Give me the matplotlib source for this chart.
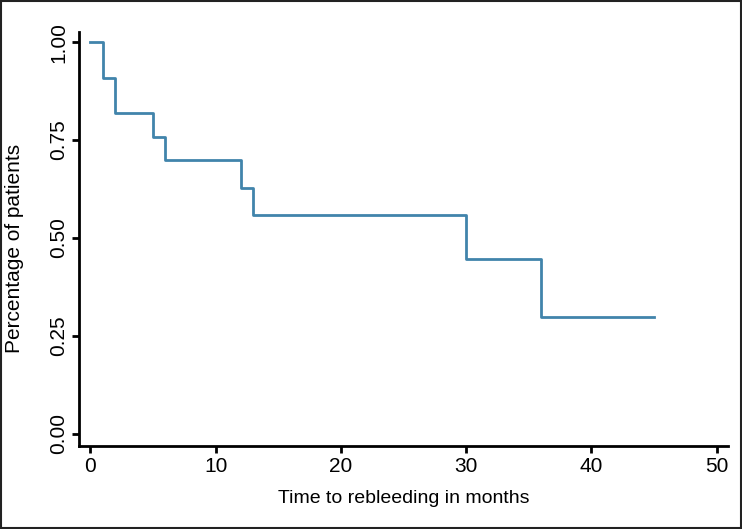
#!/usr/bin/env python3
"""Kaplan-Meier style step curve: time to rebleeding."""

import matplotlib

matplotlib.use("Agg", force=True)

import matplotlib.pyplot as plt
from matplotlib.patches import Rectangle

# step change times (months) and survival level after each change
times = [0, 1, 2, 5, 6, 12, 13, 30, 36, 45]
survival = [1.00, 0.909, 0.818, 0.758, 0.698, 0.628, 0.558, 0.447, 0.298, 0.298]

x_ticks = [0, 10, 20, 30, 40, 50]
y_ticks = [0.00, 0.25, 0.50, 0.75, 1.00]
y_labels = ["0.00", "0.25", "0.50", "0.75", "1.00"]


def main():
    plt.rcParams.update({
        "font.family": ["Liberation Sans", "DejaVu Sans"],
        "font.size": 13,
    })

    fig = plt.figure(figsize=(7.42, 5.29), dpi=100)
    ax = fig.add_axes([0.1065, 0.157, 0.8745, 0.7825])

    ax.step(times, survival, where="post", color="#4184ab", linewidth=2.0)

    ax.set_xlim(-0.9, 50.9)
    ax.set_ylim(-0.031, 1.026)
    ax.set_xticks(x_ticks)
    ax.set_yticks(y_ticks)
    ax.set_yticklabels(y_labels, rotation=90, va="center")

    for side in ("top", "right"):
        ax.spines[side].set_visible(False)
    for side in ("left", "bottom"):
        ax.spines[side].set_linewidth(2.0)
    ax.tick_params(width=2.0, length=5, labelsize=15, pad=3)

    ax.set_xlabel("Time to rebleeding in months", fontsize=14, labelpad=10)
    ax.set_ylabel("Percentage of patients", fontsize=15, labelpad=18)
    ax.yaxis.label.set_y(0.478)

    # thin frame around whole picture
    fig.patches.append(Rectangle((0.001, 0.001), 0.997, 0.997, transform=fig.transFigure,
                                 fill=False, edgecolor="#222222", linewidth=1.5))

    fig.savefig("out.png", dpi=100)


if __name__ == "__main__":
    main()
